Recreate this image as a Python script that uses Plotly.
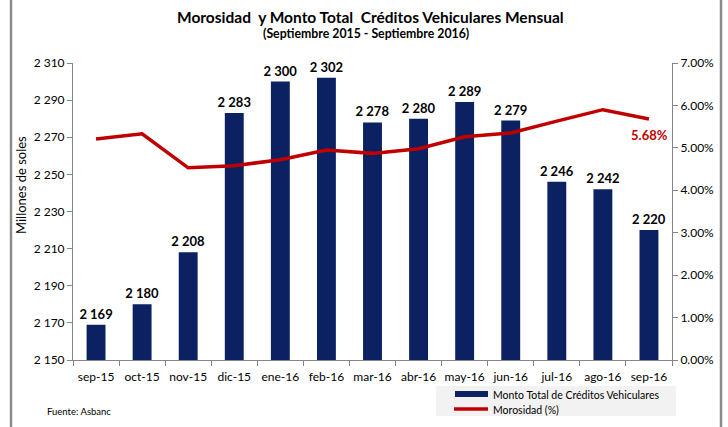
import plotly.graph_objects as go

months = ["sep-15", "oct-15", "nov-15", "dic-15", "ene-16", "feb-16", "mar-16",
          "abr-16", "may-16", "jun-16", "jul-16", "ago-16", "sep-16"]
monto = [2169, 2180, 2208, 2283, 2300, 2302, 2278, 2280, 2289, 2279, 2246, 2242, 2220]
morosidad = [5.21, 5.33, 4.53, 4.58, 4.72, 4.95, 4.87, 4.98, 5.26, 5.35, 5.63, 5.90, 5.68]
left_ticks = [2150, 2170, 2190, 2210, 2230, 2250, 2270, 2290, 2310]
right_ticks = [0, 1, 2, 3, 4, 5, 6, 7]
right_labels = ["0.00%", "1.00%", "2.00%", "3.00%", "4.00%", "5.00%", "6.00%", "7.00%"]
bar_name = "Monto Total de Créditos Vehiculares"
line_name = "Morosidad (%)"

W, H = 728, 427
L, R, T, B = 73, 56, 63, 67
pw = W - L - R
ph = H - T - B

def px(x):
    return (x - L) / pw

def py(y):
    return (H - B - y) / ph

font = "Lato, 'Open Sans', sans-serif"
navy = "#0b2161"
red = "#c00000"

fig = go.Figure()
fig.add_trace(go.Bar(
    x=months, y=monto, name=bar_name,
    marker=dict(color=navy, line=dict(width=0)),
    texttemplate="%{y:,d}", textposition="outside", constraintext="none",
    textfont=dict(family=font, size=13, color="#000000", weight="bold"),
    cliponaxis=False, yaxis="y",
))
fig.add_trace(go.Scatter(
    x=months, y=morosidad, name=line_name, mode="lines",
    line=dict(color=red, width=3.5),
    yaxis="y2", cliponaxis=False,
))

annotations = [
    dict(text="<b>Morosidad  y Monto Total  Créditos Vehiculares Mensual</b>",
         x=px(370), y=py(17), xref="paper", yref="paper", showarrow=False,
         font=dict(size=15.5, family=font), xanchor="center", yanchor="middle"),
    dict(text="<b>(Septiembre 2015 - Septiembre 2016)</b>",
         x=px(366), y=py(33), xref="paper", yref="paper", showarrow=False,
         font=dict(size=12.3, family=font), xanchor="center", yanchor="middle"),
    dict(text="Millones de soles", textangle=-90,
         x=px(21), y=py(185), xref="paper", yref="paper", showarrow=False,
         font=dict(size=13, family=font), xanchor="center", yanchor="middle"),
    dict(text="Fuente: Asbanc",
         x=px(45), y=py(411), xref="paper", yref="paper", showarrow=False,
         font=dict(size=9.5, family=font), xanchor="left", yanchor="middle"),
    dict(text=f"<b>{morosidad[-1]:.2f}%</b>", x=months[-1], y=morosidad[-1],
         xref="x", yref="y2", showarrow=False, yshift=-16, xshift=1,
         font=dict(size=13, family=font, color=red), xanchor="center", yanchor="middle"),
    dict(text=bar_name, x=px(491), y=py(395), xref="paper", yref="paper",
         showarrow=False, font=dict(size=10.5, family=font),
         xanchor="left", yanchor="middle"),
    dict(text=line_name, x=px(491), y=py(410), xref="paper", yref="paper",
         showarrow=False, font=dict(size=10.5, family=font),
         xanchor="left", yanchor="middle"),
]

shapes = [
    dict(type="line", xref="paper", yref="paper", x0=px(11), x1=px(11),
         y0=py(0), y1=py(H), line=dict(color="#8c8c8c", width=2.5)),
    dict(type="line", xref="paper", yref="paper", x0=px(721), x1=px(721),
         y0=py(0), y1=py(H), line=dict(color="#8c8c8c", width=2.5)),
    dict(type="rect", xref="paper", yref="paper", x0=px(436), x1=px(676),
         y0=py(416), y1=py(386), fillcolor="#f2f2f2", line=dict(width=0), layer="below"),
    dict(type="rect", xref="paper", yref="paper", x0=px(455), x1=px(488),
         y0=py(397), y1=py(391), fillcolor=navy, line=dict(width=0)),
    dict(type="line", xref="paper", yref="paper", x0=px(454), x1=px(488),
         y0=py(409), y1=py(409), line=dict(color=red, width=3.5)),
]

fig.update_layout(
    width=W, height=H,
    margin=dict(l=L, r=R, t=T, b=B, autoexpand=False),
    paper_bgcolor="white", plot_bgcolor="white",
    separators=". ",
    bargap=0.59,
    font=dict(family=font, size=12, color="#000000"),
    showlegend=False,
    xaxis=dict(
        type="category", showline=True, linecolor="#868686", linewidth=1,
        ticks="outside", tickson="boundaries", ticklen=5, tickcolor="#868686",
        showgrid=False, tickangle=0, tickfont=dict(size=12, family=font),
        ticklabelstandoff=6, automargin=False,
    ),
    yaxis=dict(
        range=[2150, 2310], tickvals=left_ticks, tickformat=",d",
        showline=True, linecolor="#868686", linewidth=1,
        ticks="outside", ticklen=5, tickcolor="#868686",
        showgrid=False, zeroline=False, tickfont=dict(size=12, family=font),
        automargin=False,
    ),
    yaxis2=dict(
        range=[0, 7], tickvals=right_ticks, ticktext=right_labels,
        overlaying="y", side="right",
        showline=True, linecolor="#868686", linewidth=1,
        ticks="outside", ticklen=5, tickcolor="#868686",
        showgrid=False, zeroline=False, tickfont=dict(size=12, family=font),
        automargin=False,
    ),
    annotations=annotations,
    shapes=shapes,
)

fig.write_html("out.html")
